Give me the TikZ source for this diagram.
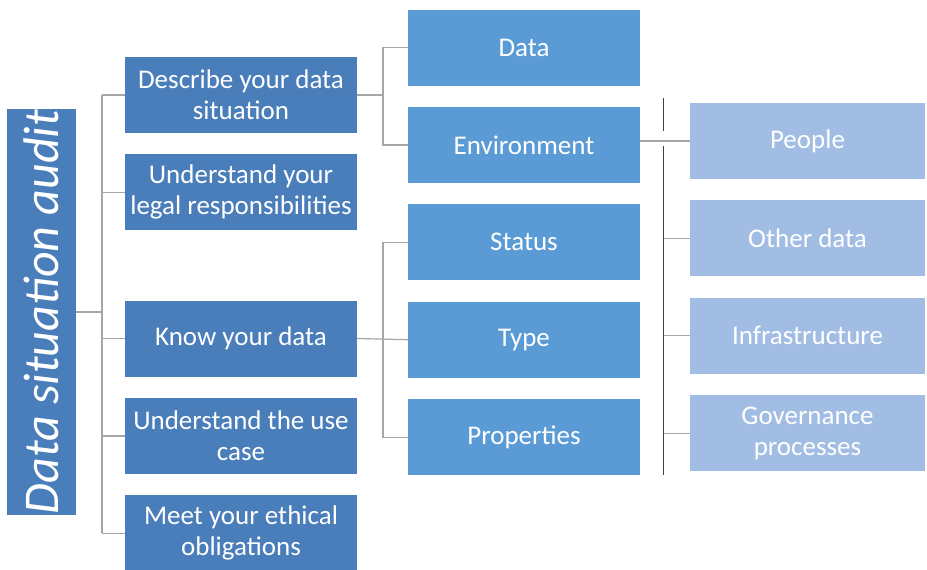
\documentclass[tikz,border=0pt]{standalone}
\usepackage{fontspec}
\setmainfont{Carlito}
\usetikzlibrary{positioning}
\definecolor{darkbox}{HTML}{4A7EBB}
\definecolor{midbox}{HTML}{5B9BD5}
\definecolor{lightbox}{HTML}{A2BDE3}
\definecolor{wire}{HTML}{A6A6A6}
\definecolor{sepline}{HTML}{404040}

\begin{document}
\begin{tikzpicture}[
        x=1pt, y=-1pt,
        node distance=21pt,
        box/.style={rectangle, text=white, align=center, inner sep=0pt,
                    minimum width=232pt, minimum height=76pt,
                    font=\fontsize{27}{31}\selectfont},
        lvlone/.style={box, fill=darkbox},
        lvltwo/.style={box, fill=midbox},
        lvlthree/.style={box, fill=lightbox, minimum width=235pt},
        link/.style={draw=wire, line width=1.2pt},
        sep/.style={draw=sepline, line width=1pt}
      ]
        \useasboundingbox (0,0) rectangle (927,570);
        % root
        \node[fill=darkbox, text=white, minimum width=406pt, minimum height=69pt,
              inner sep=0pt, rotate=90, font=\fontsize{50}{56}\selectfont\itshape]
              (audit) at (41.5,312) {Data situation audit};
        % first level
        \node[lvlone] (desc) at (241,95) {Describe your data\\situation};
        \node[lvlone, below=of desc] (legal) {Understand your\\legal responsibilities};
        \node[lvlone] (know) at (241,338.5) {Know your data};
        \node[lvlone, below=of know] (usecase) {Understand the use\\case};
        \node[lvlone, below=of usecase] (ethics) {Meet your ethical\\obligations};
        % second level
        \node[lvltwo] (data) at (524,47.5) {Data};
        \node[lvltwo, below=of data] (env) {Environment};
        \node[lvltwo, below=of env] (status) {Status};
        \node[lvltwo, below=of status] (type) {Type};
        \node[lvltwo, below=of type] (props) {Properties};
        % third level
        \node[lvlthree] (people) at (807.5,141) {People};
        \node[lvlthree, below=of people] (other) {Other data};
        \node[lvlthree, below=of other] (infra) {Infrastructure};
        \node[lvlthree, below=of infra] (gov) {Governance\\processes};
        % buses
        \coordinate (busa) at (102,0);
        \coordinate (busb) at (383,0);
        \coordinate (busc) at (664,0);
        \draw[link] (audit.south) -- (audit.south -| busa);
        \draw[link] (desc.west -| busa) -- (ethics.west -| busa);
        \foreach \n in {desc,legal,know,usecase,ethics}
          \draw[link] (\n.west -| busa) -- (\n.west);
        \draw[link] (desc.east) -- (desc.east -| busb);
        \draw[link] (data.west) -- (data.west -| busb) -- (env.west -| busb) -- (env.west);
        \draw[link] (know.east) -- (type.west);
        \draw[link] (status.west) -- (status.west -| busb) -- (props.west -| busb) -- (props.west);
        \draw[link] (env.east |- people.west) -- (people.west);
        \foreach \n in {other,infra,gov}
          \draw[link] (\n.west -| busc) -- (\n.west);
        \draw[sep] (663,98) -- (663,131);
        \draw[sep] (663,146) -- (663,475);
      \end{tikzpicture}
\end{document}
